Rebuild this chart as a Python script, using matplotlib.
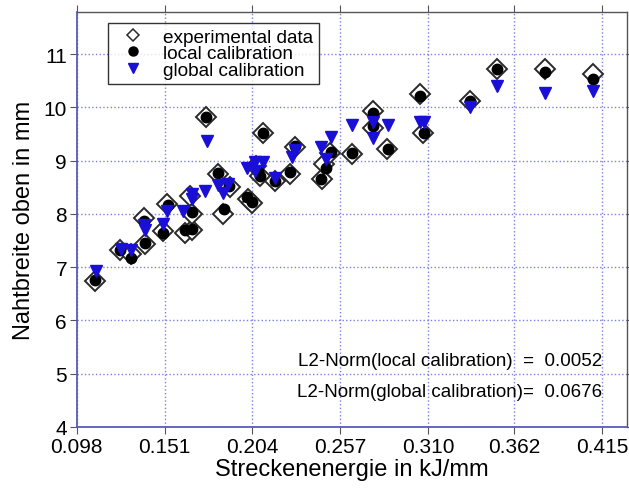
import matplotlib
matplotlib.use("Agg")
import matplotlib.pyplot as plt

plt.rcParams.update({
    "font.family": ["Liberation Sans", "DejaVu Sans"],
    "font.size": 12,
})

# Streckenenergie (kJ/mm) vs. Nahtbreite oben (mm)
exp_x = [0.1092, 0.1242, 0.1309, 0.1387, 0.1393, 0.1502, 0.1526, 0.1634, 0.1677, 0.1665,
         0.1677, 0.1761, 0.1833, 0.1906, 0.1864, 0.2014, 0.2038, 0.2063, 0.2087, 0.2105,
         0.2177, 0.2268, 0.2298, 0.2459, 0.2469, 0.2509, 0.2642, 0.2768, 0.2768, 0.2853,
         0.3052, 0.3070, 0.3353, 0.3516, 0.3806, 0.4095]
exp_y = [6.74, 7.32, 7.25, 7.92, 7.43, 7.68, 8.18, 7.64, 7.70, 8.33,
         8.00, 9.83, 8.75, 8.50, 8.00, 8.28, 8.20, 8.90, 8.72, 9.53,
         8.62, 8.75, 9.25, 8.65, 8.93, 9.15, 9.13, 9.93, 9.62, 9.22,
         10.25, 9.53, 10.12, 10.73, 10.73, 10.62]

loc_x = [0.1092, 0.1242, 0.1309, 0.1387, 0.1393, 0.1502, 0.1532, 0.1634, 0.1677, 0.1677,
         0.1761, 0.1833, 0.1900, 0.1870, 0.2008, 0.2038, 0.2075, 0.2087, 0.2105, 0.2177,
         0.2268, 0.2298, 0.2455, 0.2485, 0.2515, 0.2642, 0.2768, 0.2768, 0.2859, 0.3052,
         0.3076, 0.3353, 0.3516, 0.3806, 0.4095]
loc_y = [6.76, 7.32, 7.17, 7.86, 7.45, 7.64, 8.17, 7.70, 7.71, 8.03,
         9.83, 8.77, 8.52, 8.09, 8.32, 8.22, 8.80, 8.72, 9.53, 8.62,
         8.78, 9.28, 8.65, 8.86, 9.16, 9.15, 9.90, 9.65, 9.22, 10.22,
         9.53, 10.12, 10.72, 10.66, 10.54]

glob_x = [0.1098, 0.1248, 0.1309, 0.1387, 0.1393, 0.1502, 0.1526, 0.1622, 0.1677, 0.1677,
          0.1755, 0.1767, 0.1833, 0.1894, 0.1864, 0.2008, 0.2057, 0.2105, 0.2057, 0.2177,
          0.2280, 0.2298, 0.2455, 0.2485, 0.2515, 0.2642, 0.2768, 0.2768, 0.2859, 0.3052,
          0.3076, 0.3353, 0.3516, 0.3806, 0.4095]
glob_y = [6.93, 7.34, 7.32, 7.80, 7.70, 7.81, 8.05, 8.05, 8.37, 8.28,
          8.43, 9.37, 8.54, 8.56, 8.40, 8.87, 8.97, 8.97, 8.80, 8.68,
          9.07, 9.20, 9.25, 9.03, 9.44, 9.68, 9.72, 9.43, 9.68, 9.72,
          9.72, 10.00, 10.40, 10.28, 10.31]

x_ticks = [0.098, 0.151, 0.204, 0.257, 0.310, 0.362, 0.415]
x_ticklabels = ["0.098", "0.151", "0.204", "0.257", "0.310", "0.362", "0.415"]
y_ticks = [4, 5, 6, 7, 8, 9, 10, 11]

l2_local = 0.0052
l2_global = 0.0676

fig = plt.figure(figsize=(6.29, 4.89), dpi=100)
ax = fig.add_axes([0.122, 0.125, 0.875, 0.848])

ax.plot(exp_x, exp_y, linestyle="none", marker="D", ms=10, mfc="white",
        mec="#2a2a2a", mew=1.4, label="experimental data", zorder=3)
ax.plot(loc_x, loc_y, linestyle="none", marker="o", ms=7.5, color="black",
        label="local calibration", zorder=4)
ax.plot(glob_x, glob_y, linestyle="none", marker="v", ms=8, color="#1a0fd6",
        label="global calibration", zorder=5)

ax.set_xlim(0.098, 0.430)
ax.set_ylim(4, 11.79)
ax.set_xticks(x_ticks)
ax.set_xticklabels(x_ticklabels)
ax.set_yticks(y_ticks)
ax.tick_params(axis="both", which="both", direction="out", length=5,
               top=True, right=True, labelsize=15, color="#555555", pad=2)

ax.grid(True, linestyle=":", color="#7f7fe0", linewidth=1.0)
ax.set_axisbelow(True)
for side in ("left", "bottom"):
    ax.spines[side].set_color("#5a5ab8")
    ax.spines[side].set_linewidth(1.3)
for side in ("top", "right"):
    ax.spines[side].set_color("#555555")
    ax.spines[side].set_linewidth(1.0)

ax.set_xlabel("Streckenenergie in kJ/mm", fontsize=17, labelpad=2)
ax.set_ylabel("Nahtbreite oben in mm", fontsize=17, labelpad=6)

leg = ax.legend(loc="upper left", bbox_to_anchor=(0.057, 0.975), borderaxespad=0,
                fontsize=13.7, frameon=True, fancybox=False, labelspacing=-0.04,
                handletextpad=0.6, borderpad=0.3, handlelength=2.0)
for h in leg.legend_handles:
    h.set_markersize(6.5)
leg.legend_handles[0].set_markersize(6)
leg.legend_handles[0].set_markeredgewidth(1.1)
leg.get_frame().set_edgecolor("black")
leg.get_frame().set_linewidth(1.0)

ax.text(0.955, 0.161, f"L2-Norm(local calibration)  =  {l2_local:.4f}",
        transform=ax.transAxes, ha="right", va="center", fontsize=13.5)
ax.text(0.955, 0.086, f"L2-Norm(global calibration)=  {l2_global:.4f}",
        transform=ax.transAxes, ha="right", va="center", fontsize=13.5)

fig.savefig("out.png", dpi=100)
